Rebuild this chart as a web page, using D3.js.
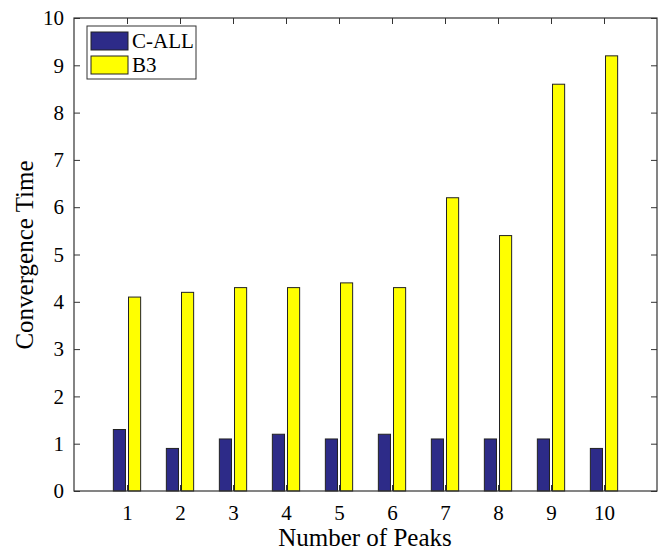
<!DOCTYPE html>
<html>
<head>
<meta charset="utf-8">
<script src="https://cdn.jsdelivr.net/npm/d3@7"></script>
<style>
  html, body { margin: 0; padding: 0; background: #fff; }
  svg { display: block; }
  text { font-family: "Liberation Serif", "Times New Roman", serif; fill: #000; }
</style>
</head>
<body>
<svg id="chart" width="662" height="552"></svg>
<script>
// Number of peaks on the x axis
const peaks = [1, 2, 3, 4, 5, 6, 7, 8, 9, 10];
// Convergence time for each method
const seriesNames = ["C-ALL", "B3"];
const callValues = [1.3, 0.9, 1.1, 1.2, 1.1, 1.2, 1.1, 1.1, 1.1, 0.9];
const b3Values = [4.1, 4.2, 4.3, 4.3, 4.4, 4.3, 6.2, 5.4, 8.6, 9.2];
const yTicks = [0, 1, 2, 3, 4, 5, 6, 7, 8, 9, 10];
const seriesColors = ["#2d2b88", "#ffff00"];

const svg = d3.select("#chart");
const plotLeft = 74, plotRight = 657, plotTop = 18, plotBottom = 491;

const x = d3.scaleLinear().domain([0, 11]).range([plotLeft, plotRight]);
const y = d3.scaleLinear().domain([0, 10]).range([plotBottom, plotTop]);

// grouped bar geometry (offset and width in category units)
const offset = 0.143, barW = 0.229;
const seriesData = [callValues, b3Values];

const g = svg.append("g");
seriesData.forEach((vals, si) => {
  g.selectAll(null)
    .data(peaks.map((p, i) => ({ p, v: vals[i] })))
    .join("rect")
    .attr("x", d => x(d.p + (si === 0 ? -offset : offset) - barW / 2))
    .attr("width", d => x(barW) - x(0))
    .attr("y", d => y(d.v))
    .attr("height", d => y(0) - y(d.v))
    .attr("fill", seriesColors[si])
    .attr("stroke", "#222")
    .attr("stroke-width", 1);
});

// axes: bottom and left with labels, top and right mirrored ticks only
const tickLen = 6;
const xAxis = d3.axisBottom(x).tickValues(peaks).tickSize(-tickLen).tickPadding(14).tickFormat(d3.format("d"));
const yAxis = d3.axisLeft(y).tickValues(yTicks).tickSize(-tickLen).tickPadding(10).tickFormat(d3.format("d"));
const xTop = d3.axisTop(x).tickValues(peaks).tickSize(-tickLen).tickFormat("");
const yRight = d3.axisRight(y).tickValues(yTicks).tickSize(-tickLen).tickFormat("");

function style(sel) {
  sel.select(".domain").remove();
  sel.selectAll(".tick line").attr("stroke", "#333");
  sel.selectAll("text").attr("font-size", 21).attr("font-family", "Liberation Serif, Times New Roman, serif");
}
svg.append("g").attr("transform", `translate(0,${plotBottom})`).call(xAxis).call(style);
svg.append("g").attr("transform", `translate(${plotLeft},0)`).call(yAxis).call(style);
svg.append("g").attr("transform", `translate(0,${plotTop})`).call(xTop).call(style);
svg.append("g").attr("transform", `translate(${plotRight},0)`).call(yRight).call(style);

// plot box
svg.append("rect")
  .attr("x", plotLeft).attr("y", plotTop)
  .attr("width", plotRight - plotLeft).attr("height", plotBottom - plotTop)
  .attr("fill", "none").attr("stroke", "#333").attr("stroke-width", 1.2);

// axis titles
svg.append("text")
  .attr("x", 365).attr("y", 546)
  .attr("text-anchor", "middle").attr("font-size", 25)
  .text("Number of Peaks");
svg.append("text")
  .attr("transform", `translate(33,255) rotate(-90)`)
  .attr("text-anchor", "middle").attr("font-size", 25)
  .text("Convergence Time");

// legend
const lg = svg.append("g");
lg.append("rect")
  .attr("x", 87).attr("y", 26).attr("width", 109).attr("height", 53)
  .attr("fill", "#fff").attr("stroke", "#333").attr("stroke-width", 1);
seriesNames.forEach((name, i) => {
  const yy = 32 + i * 24;
  lg.append("rect")
    .attr("x", 91).attr("y", yy).attr("width", 37).attr("height", 18)
    .attr("fill", seriesColors[i]).attr("stroke", "#222");
  lg.append("text")
    .attr("x", 132).attr("y", yy + 16)
    .attr("font-size", 21)
    .text(name);
});
</script>
</body>
</html>
